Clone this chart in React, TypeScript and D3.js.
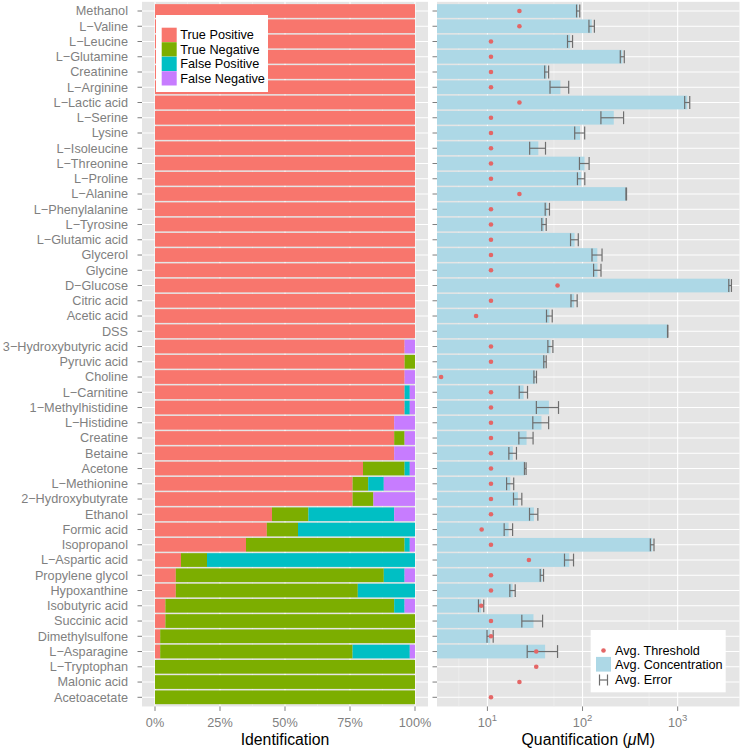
import * as d3 from "d3";

// compounds, top to bottom
const compounds = [
  "Methanol", "L\u2212Valine", "L\u2212Leucine", "L\u2212Glutamine", "Creatinine", "L\u2212Arginine",
  "L\u2212Lactic acid", "L\u2212Serine", "Lysine", "L\u2212Isoleucine", "L\u2212Threonine", "L\u2212Proline",
  "L\u2212Alanine", "L\u2212Phenylalanine", "L\u2212Tyrosine", "L\u2212Glutamic acid", "Glycerol", "Glycine",
  "D\u2212Glucose", "Citric acid", "Acetic acid", "DSS", "3\u2212Hydroxybutyric acid", "Pyruvic acid",
  "Choline", "L\u2212Carnitine", "1\u2212Methylhistidine", "L\u2212Histidine", "Creatine", "Betaine",
  "Acetone", "L\u2212Methionine", "2\u2212Hydroxybutyrate", "Ethanol", "Formic acid", "Isopropanol",
  "L\u2212Aspartic acid", "Propylene glycol", "Hypoxanthine", "Isobutyric acid", "Succinic acid",
  "Dimethylsulfone", "L\u2212Asparagine", "L\u2212Tryptophan", "Malonic acid", "Acetoacetate",
];

// identification outcome, % of samples
const truePos = [
  100, 100, 100, 100, 100, 100, 100, 100, 100, 100, 100, 100, 100, 100, 100, 100, 100, 100,
  100, 100, 100, 100, 96, 96, 96, 96, 96, 92, 92, 92, 80, 76, 76, 45, 43, 35, 10, 8, 8, 4, 4, 2, 2, 0, 0, 0,
];
const trueNeg = [
  0, 0, 0, 0, 0, 0, 0, 0, 0, 0, 0, 0, 0, 0, 0, 0, 0, 0,
  0, 0, 0, 0, 0, 4, 0, 0, 0, 0, 4, 0, 16, 6, 8, 14, 12, 61, 10, 80, 70, 88, 96, 98, 74, 100, 100, 100,
];
const falsePos = [
  0, 0, 0, 0, 0, 0, 0, 0, 0, 0, 0, 0, 0, 0, 0, 0, 0, 0,
  0, 0, 0, 0, 0, 0, 0, 2, 2, 0, 0, 0, 2, 6, 0, 33, 45, 2, 80, 8, 22, 4, 0, 0, 22, 0, 0, 0,
];
const falseNeg = [
  0, 0, 0, 0, 0, 0, 0, 0, 0, 0, 0, 0, 0, 0, 0, 0, 0, 0,
  0, 0, 0, 0, 4, 0, 4, 2, 2, 8, 4, 8, 2, 12, 16, 8, 0, 2, 0, 4, 0, 4, 0, 0, 2, 0, 0, 0,
];

// quantification, µM
const avgConc = [
  90, 125, 74, 262, 42, 58.5, 1262, 213, 94, 34.3, 105, 97, 288, 42.7, 39.4, 82.5, 143, 143.5,
  3560, 81.7, 44.9, 785, 46, 40.3, 31.8, 24, 44.3, 37, 25.8, 18.5, 25, 17.4, 20.9, 30.8, 16.7,
  540, 72.5, 37.4, 18.4, 8.6, 30.5, 10.7, 40.4, null, null, null,
];
const avgErr = [
  3.5, 8.2, 4.5, 12.7, 2, 13, 77, 57, 11.3, 6.5, 12.2, 8.6, 2, 2.2, 2.1, 7.7, 17.3, 12.8,
  115, 6.1, 3.1, 3, 2.8, 1.2, 1.0, 2.4, 11.6, 7, 4.4, 1.7, 0.5, 1.5, 2.1, 3.1, 1.7,
  24, 7.9, 1.5, 1.2, 0.55, 7.5, 0.8, 14.2, null, null, null,
];
const avgThresh = [
  21.7, 21.7, 10.9, 10.9, 10.9, 10.9, 21.7, 10.9, 10.9, 10.9, 10.9, 10.9, 21.7, 10.9, 10.9, 10.9,
  10.9, 10.9, 54.6, 10.9, 7.6, null, 10.9, 10.9, 3.26, 10.9, 10.9, 10.9, 10.9, 10.9, 10.9, 10.9,
  10.9, 10.9, 8.7, 10.9, 27.3, 10.9, 10.9, 8.6, 10.9, 10.9, 32.6, 32.6, 21.7, 10.9,
];

const outcomeKeys = ["tp", "tn", "fp", "fn"];
const outcomeLabels = ["True Positive", "True Negative", "False Positive", "False Negative"];
const outcomeColors = ["#F8766D", "#7CAE00", "#00BFC4", "#C77CFF"];

const pctTicks = [0, 0.25, 0.5, 0.75, 1];
const pctMinor = [0.125, 0.375, 0.625, 0.875];
const logTicks = [10, 100, 1000];
const logMinor = [5, 50, 500];

const FONT = "'Liberation Sans', Arial, Helvetica, sans-serif";
const BG = "#E5E5E5";
const AXIS_GREY = "#7F7F7F";

export default function App() {
  const width = 741;
  const height = 749;

  const y = d3.scalePoint<string>().domain(compounds).range([1.85, 706.45]).padding(0.6);
  const step = y.step();
  const barH = step * 0.9;

  const xl = d3.scaleLinear().domain([0, 1]).range([155, 415]);
  const xr = d3.scaleLog().domain([Math.pow(10, 0.47), Math.pow(10, 3.65)]).range([437, 739.5]);

  const top = 1.85;
  const bottom = 706.45;
  const leftPanel = [xl(-0.05), xl(1.05)];
  const rightPanel = xr.range();

  const table = compounds.map((name, i) => ({
    name,
    tp: truePos[i] / 100,
    tn: trueNeg[i] / 100,
    fp: falsePos[i] / 100,
    fn: falseNeg[i] / 100,
  }));
  const stacked = d3.stack<(typeof table)[0]>().keys(outcomeKeys)(table);

  const rows = compounds.map((name, i) => ({
    name,
    conc: avgConc[i],
    err: avgErr[i],
    thresh: avgThresh[i],
  }));

  return (
    <div style={{ position: "absolute", left: 0, top: 0 }}>
      <svg width={width} height={height} style={{ display: "block", background: "#fff" }} fontFamily={FONT}>
        {/* ---- left panel: identification ---- */}
        <rect x={leftPanel[0]} y={top} width={leftPanel[1] - leftPanel[0]} height={bottom - top} fill={BG} />
        {pctMinor.map((t) => (
          <line key={"lm" + t} x1={xl(t)} x2={xl(t)} y1={top} y2={bottom} stroke="#F2F2F2" strokeWidth={0.6} />
        ))}
        {compounds.map((c) => (
          <line key={"lh" + c} x1={leftPanel[0]} x2={leftPanel[1]} y1={y(c)} y2={y(c)} stroke="#fff" strokeWidth={1.1} />
        ))}
        {pctTicks.map((t) => (
          <line key={"lv" + t} x1={xl(t)} x2={xl(t)} y1={top} y2={bottom} stroke="#fff" strokeWidth={1.1} />
        ))}
        {stacked.map((layer, k) => (
          <g key={layer.key} fill={outcomeColors[k]}>
            {layer.map((d, i) =>
              d[1] - d[0] > 0 ? (
                <rect
                  key={i}
                  x={xl(d[0])}
                  width={xl(d[1]) - xl(d[0])}
                  y={(y(compounds[i]) ?? 0) - barH / 2}
                  height={barH}
                />
              ) : null,
            )}
          </g>
        ))}

        {/* left y axis */}
        {compounds.map((c) => (
          <g key={"ly" + c}>
            <line x1={leftPanel[0] - 4.5} x2={leftPanel[0]} y1={y(c)} y2={y(c)} stroke={AXIS_GREY} strokeWidth={1} />
            <text x={leftPanel[0] - 14} y={y(c)} dy="0.35em" textAnchor="end" fontSize={12.7} fill={AXIS_GREY}>
              {c}
            </text>
          </g>
        ))}
        {/* left x axis */}
        {pctTicks.map((t) => (
          <g key={"lx" + t}>
            <line x1={xl(t)} x2={xl(t)} y1={bottom} y2={bottom + 4.5} stroke={AXIS_GREY} strokeWidth={1} />
            <text x={xl(t)} y={727.3} textAnchor="middle" fontSize={12.7} fill={AXIS_GREY}>
              {d3.format(".0%")(t)}
            </text>
          </g>
        ))}
        <text x={(leftPanel[0] + leftPanel[1]) / 2} y={745} textAnchor="middle" fontSize={15.8} fill="#000">
          Identification
        </text>

        {/* legend: identification */}
        <g>
          <rect x={156} y={15} width={112} height={77} fill="#fff" />
          {outcomeLabels.map((lab, k) => (
            <g key={lab} transform={`translate(161.7,${27.7 + k * 14.5})`}>
              <rect x={0} y={0} width={15} height={14.3} fill={outcomeColors[k]} />
              <text x={18.6} y={7.2} dy="0.35em" fontSize={12.7} fill="#000">
                {lab}
              </text>
            </g>
          ))}
        </g>

        {/* ---- right panel: quantification ---- */}
        <rect x={rightPanel[0]} y={top} width={rightPanel[1] - rightPanel[0]} height={bottom - top} fill={BG} />
        {logMinor.map((t) => (
          <line key={"rm" + t} x1={xr(t)} x2={xr(t)} y1={top} y2={bottom} stroke="#F2F2F2" strokeWidth={0.6} />
        ))}
        {compounds.map((c) => (
          <line key={"rh" + c} x1={rightPanel[0]} x2={rightPanel[1]} y1={y(c)} y2={y(c)} stroke="#fff" strokeWidth={1.1} />
        ))}
        {logTicks.map((t) => (
          <line key={"rv" + t} x1={xr(t)} x2={xr(t)} y1={top} y2={bottom} stroke="#fff" strokeWidth={1.1} />
        ))}
        {rows.map((r) =>
          r.conc != null ? (
            <rect
              key={"bar" + r.name}
              x={rightPanel[0]}
              width={xr(r.conc) - rightPanel[0]}
              y={(y(r.name) ?? 0) - barH / 2}
              height={barH}
              fill="#ADD8E6"
            />
          ) : null,
        )}
        {rows.map((r) => {
          if (r.conc == null || r.err == null) return null;
          const cy = y(r.name) ?? 0;
          const lo = xr(r.conc - r.err);
          const hi = xr(r.conc + r.err);
          const h = step * 0.42;
          return (
            <g key={"err" + r.name} stroke="#6E6E6E" strokeWidth={1.2} fill="none">
              <line x1={lo} x2={hi} y1={cy} y2={cy} />
              <line x1={lo} x2={lo} y1={cy - h} y2={cy + h} />
              <line x1={hi} x2={hi} y1={cy - h} y2={cy + h} />
            </g>
          );
        })}
        {rows.map((r) =>
          r.thresh != null ? (
            <circle key={"th" + r.name} cx={xr(r.thresh)} cy={y(r.name)} r={2.3} fill="#E46666" />
          ) : null,
        )}

        {/* right y axis ticks */}
        {compounds.map((c) => (
          <line
            key={"ry" + c}
            x1={rightPanel[0] - 4.5}
            x2={rightPanel[0]}
            y1={y(c)}
            y2={y(c)}
            stroke={AXIS_GREY}
            strokeWidth={1}
          />
        ))}
        {/* right x axis */}
        {logTicks.map((t) => (
          <g key={"rx" + t}>
            <line x1={xr(t)} x2={xr(t)} y1={bottom} y2={bottom + 4.5} stroke={AXIS_GREY} strokeWidth={1} />
            <text x={xr(t)} y={727.3} textAnchor="middle" fontSize={12.7} fill={AXIS_GREY}>
              <tspan>10</tspan>
              <tspan dy={-6} fontSize={9.5}>
                {Math.round(Math.log10(t))}
              </tspan>
            </text>
          </g>
        ))}
        <text x={(rightPanel[0] + rightPanel[1]) / 2} y={745} textAnchor="middle" fontSize={15.8} fill="#000">
          Quantification (<tspan fontStyle="italic">μ</tspan>M)
        </text>

        {/* legend: quantification */}
        <g>
          <rect x={590.7} y={630} width={135} height={62.3} fill="#fff" />
          <circle cx={603.5} cy={650.5} r={2.3} fill="#E46666" />
          <text x={615} y={650.5} dy="0.35em" fontSize={12.7} fill="#000">
            Avg. Threshold
          </text>
          <rect x={596} y={656.9} width={15} height={14.7} fill="#ADD8E6" />
          <text x={615} y={665} dy="0.35em" fontSize={12.7} fill="#000">
            Avg. Concentration
          </text>
          <g stroke="#6E6E6E" strokeWidth={1.2}>
            <line x1={599.5} x2={599.5} y1={674.5} y2={685.5} />
            <line x1={607.5} x2={607.5} y1={674.5} y2={685.5} />
            <line x1={599.5} x2={607.5} y1={680} y2={680} />
          </g>
          <text x={615} y={680} dy="0.35em" fontSize={12.7} fill="#000">
            Avg. Error
          </text>
        </g>
      </svg>
    </div>
  );
}
